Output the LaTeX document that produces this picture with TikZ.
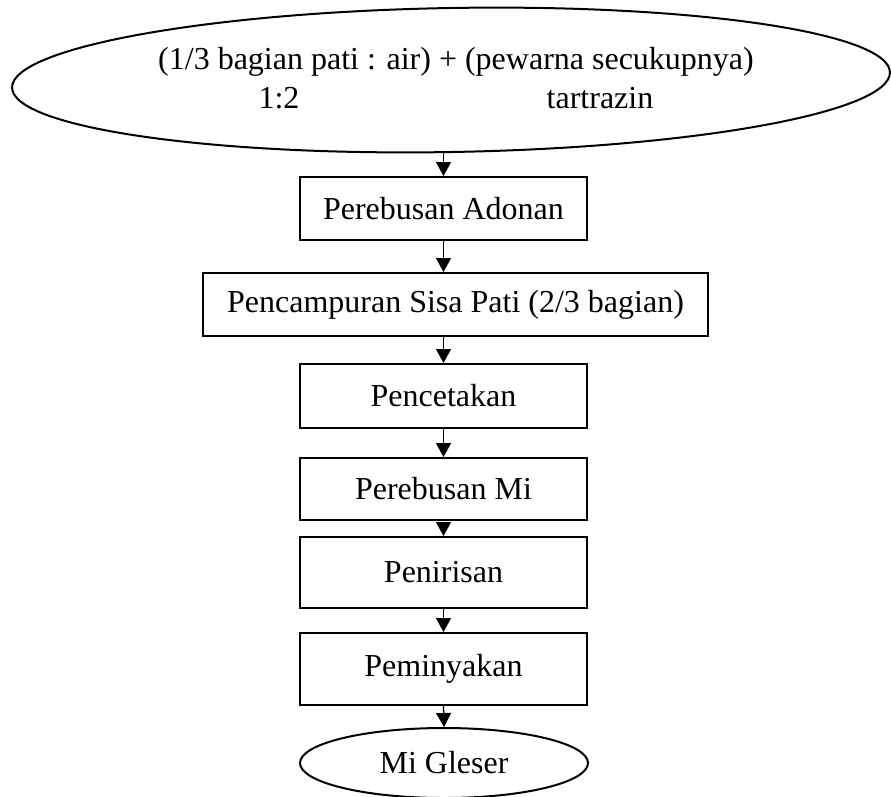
\documentclass[tikz,border=0pt]{standalone}
\usepackage{fontspec}
\setmainfont{Liberation Serif}
\usetikzlibrary{shapes.geometric,arrows.meta}
\begin{document}
\begin{tikzpicture}[x=1pt,y=-1pt,
  line width=2pt,
  font=\fontsize{32}{38}\selectfont,
  stepbox/.style={draw,rectangle,inner sep=0pt,minimum height=63pt},
  oval/.style={draw,ellipse,inner sep=0pt},
  label/.style={inner sep=0pt,anchor=center},
  arr/.style={-{Triangle[width=15pt,length=14pt]},line width=1.3pt}]
\useasboundingbox (0,0) rectangle (891,796);
\fill[white] (0,0) rectangle (891,796);

% starting mixture
\node[oval,minimum width=878pt,minimum height=144pt,rotate=1] (src) at (451,80) {};
\node[label] (t1) at (456,62) {(1/3 bagian pati : air) + (pewarna secukupnya)};
\node[label] (t2) at (279,98) {1:2};
\node[label] (t3) at (600,98) {tartrazin};

% process steps
\node[stepbox,minimum width=287pt] (b1) at (443.5,208.5) {Perebusan Adonan};
\node[stepbox,minimum width=505pt] (b2) at (455.5,304.5) {Pencampuran Sisa Pati (2/3 bagian)};
\node[stepbox,minimum width=287pt,minimum height=64pt] (b3) at (443.5,396) {Pencetakan};
\node[stepbox,minimum width=287pt,minimum height=62pt] (b4) at (443.5,489) {Perebusan Mi};
\node[stepbox,minimum width=287pt,minimum height=71pt] (b5) at (443.5,572.5) {Penirisan};
\node[stepbox,minimum width=287pt,minimum height=72pt] (b6) at (443.5,669) {Peminyakan};

% product
\node[oval,minimum width=288pt,minimum height=70pt] (end) at (444,763) {Mi Gleser};

% flow
\draw[arr] (b1.north |- src.south) -- (b1.north);
\draw[arr] (b1.south) -- (b1.south |- b2.north);
\draw[arr] (b1.south |- b2.south) -- (b3.north);
\draw[arr] (b3.south) -- (b4.north);
\draw[arr] ([yshift=-8pt]b4.south) -- (b5.north);
\draw[arr] (b5.south) -- (b6.north);
\draw[arr] (b6.south) -- (end.north);
\end{tikzpicture}
\end{document}
